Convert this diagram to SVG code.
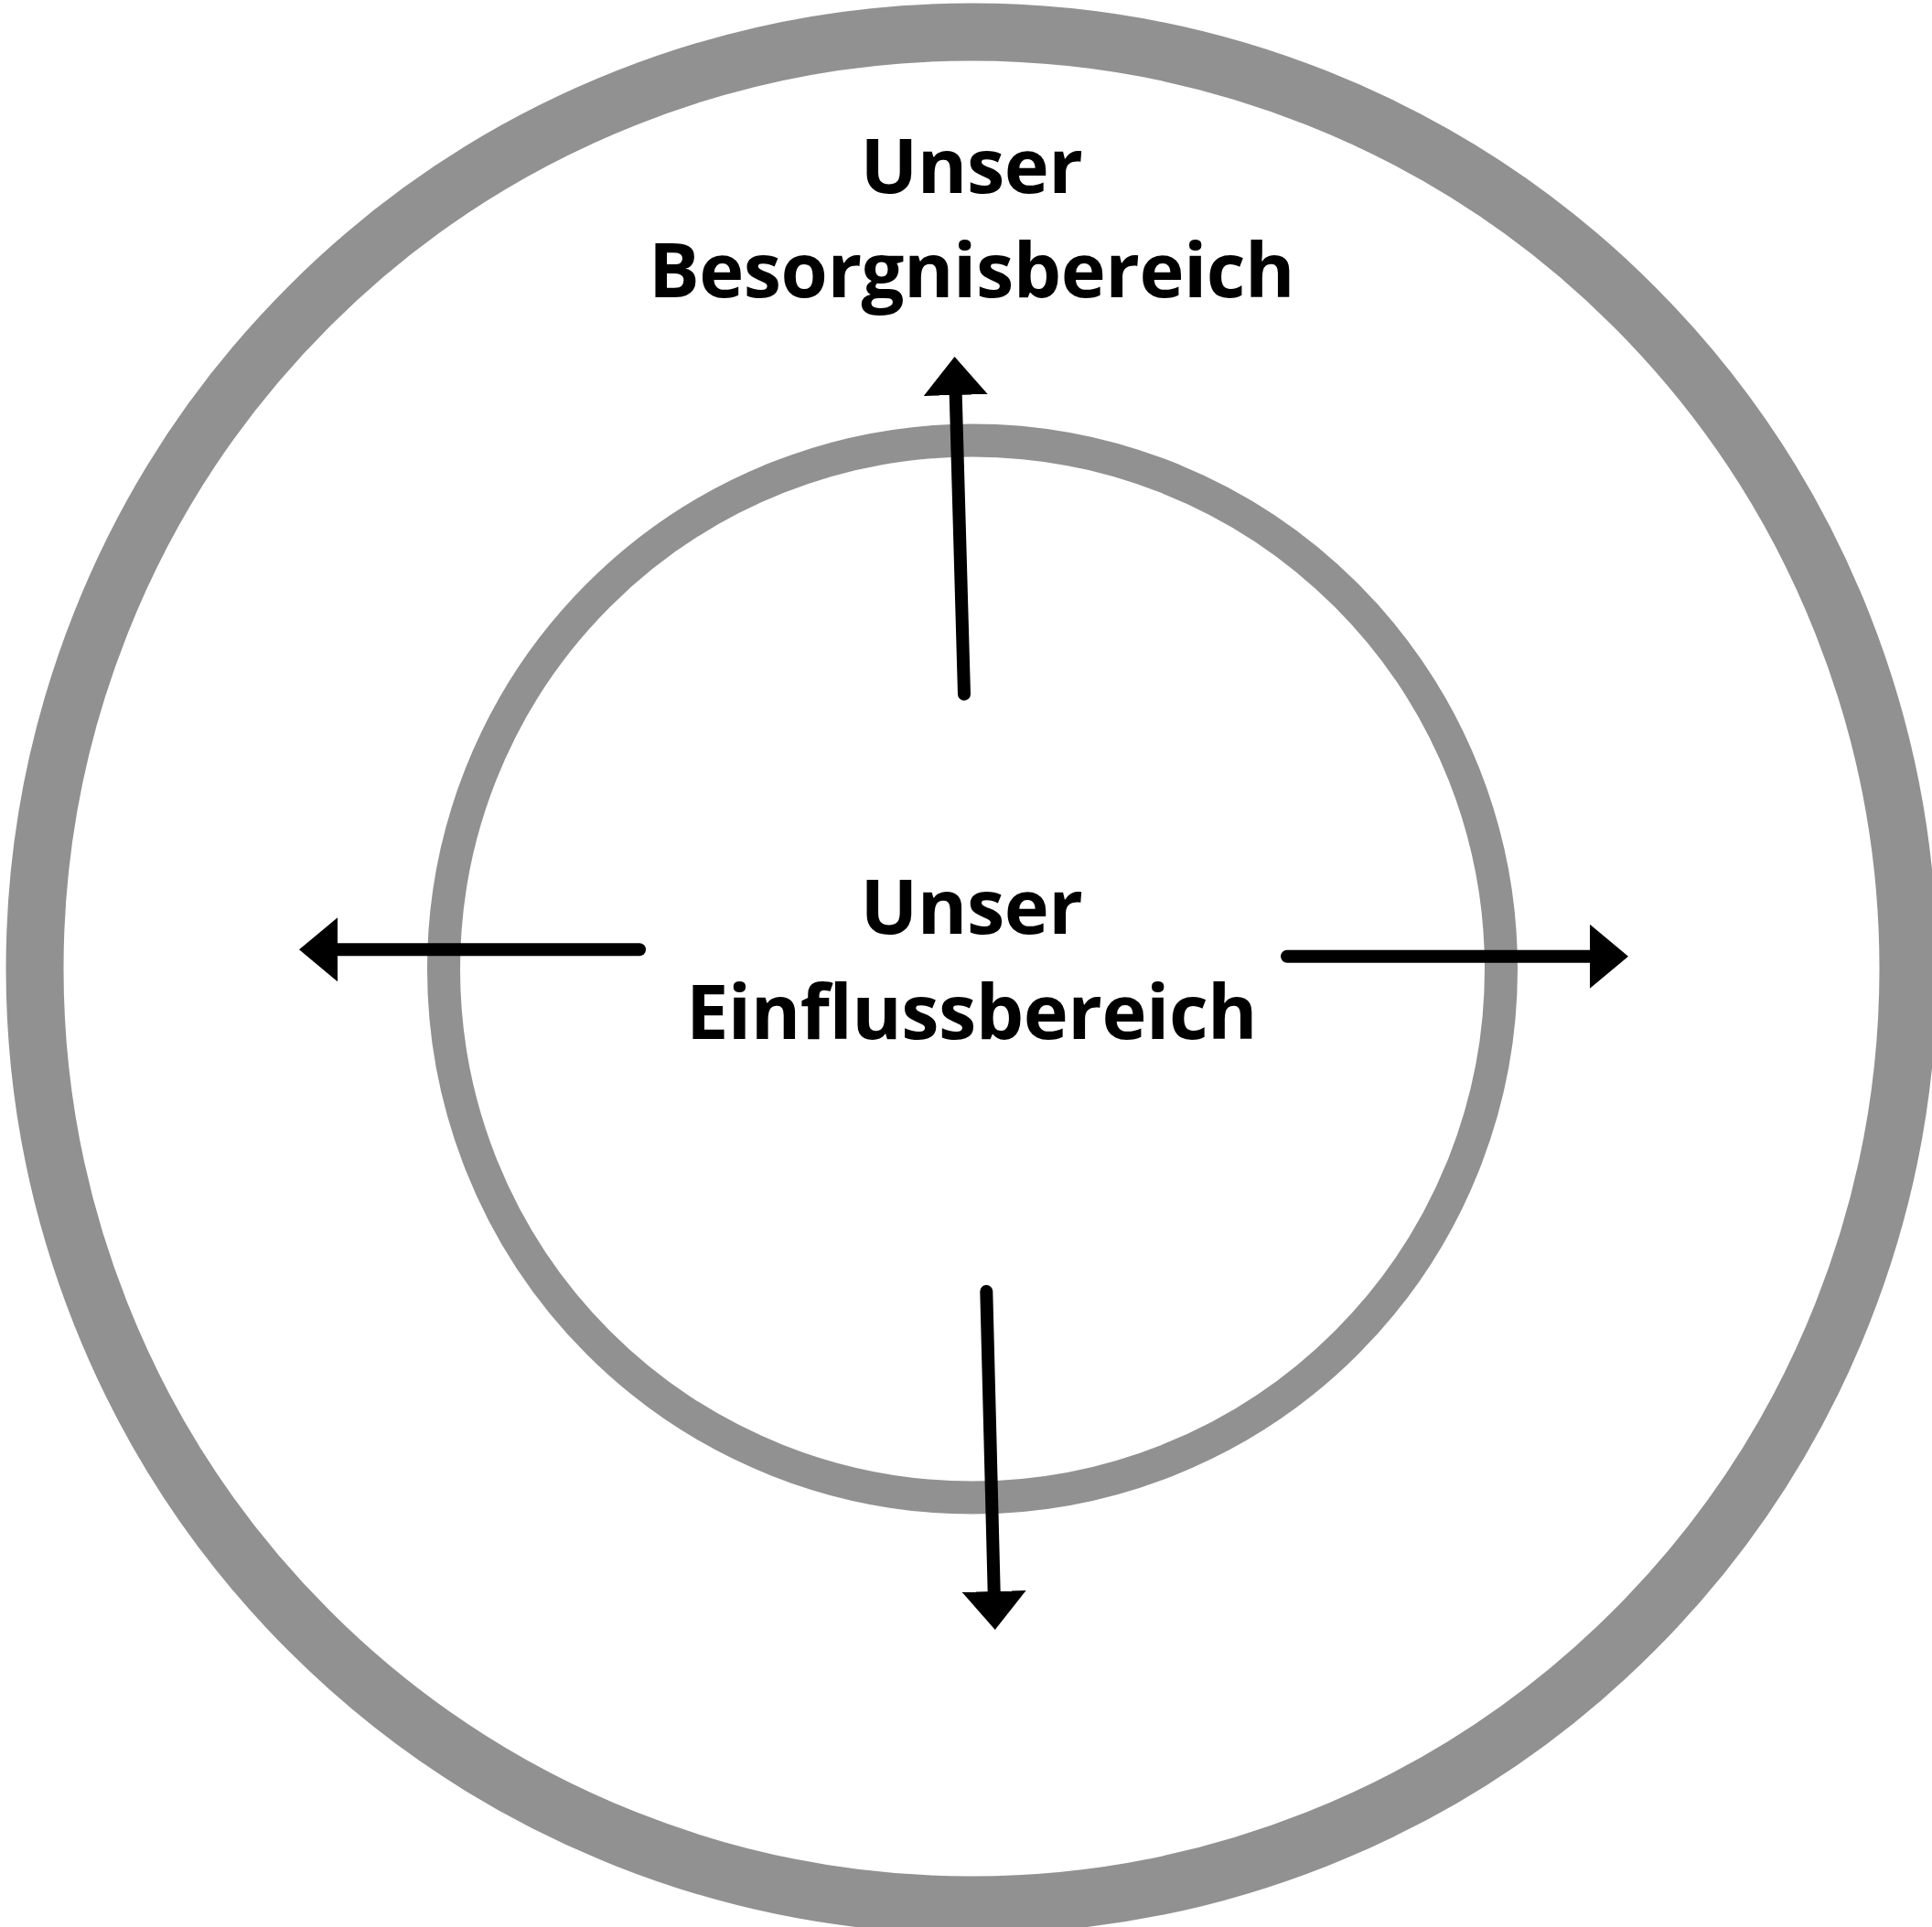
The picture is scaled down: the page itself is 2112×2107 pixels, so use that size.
<svg xmlns="http://www.w3.org/2000/svg" width="2112" height="2107" viewBox="0 0 2112 2107">
<style>
.ring{fill:none;stroke:#919191}
.lbl{font-family:"Open Sans","Noto Sans","Liberation Sans",sans-serif;font-weight:700;font-size:83px;letter-spacing:-0.5px;fill:#000;text-anchor:middle}
.conn{stroke:#000;stroke-width:14;stroke-linecap:round;fill:none;marker-end:url(#head)}
</style>
<defs>
<marker id="head" markerUnits="userSpaceOnUse" viewBox="0 0 42 70" markerWidth="42" markerHeight="70" refX="1" refY="35" orient="auto">
<path d="M0,0 L42,35 L0,70 Z" fill="#000"/>
</marker>
</defs>
<rect width="2112" height="2107" fill="#fff"/>
<g id="besorgnis">
<circle class="ring" cx="1062" cy="1059" r="1024" stroke-width="63"/>
<text class="lbl" x="1062" y="211">Unser</text>
<text class="lbl" x="1062" y="325">Besorgnisbereich</text>
</g>
<g id="einfluss">
<circle class="ring" cx="1063" cy="1059.5" r="578" stroke-width="36"/>
<text class="lbl" x="1062" y="1021">Unser</text>
<text class="lbl" x="1062" y="1136">Einflussbereich</text>
</g>
<g id="connectors">
<path class="conn" d="M1054,759 L1044.7,431"/>
<path class="conn" d="M699,1038.3 L368,1038.3"/>
<path class="conn" d="M1407,1045.7 L1739,1045.7"/>
<path class="conn" d="M1078.3,1412 L1086.7,1741"/>
</g>
</svg>
